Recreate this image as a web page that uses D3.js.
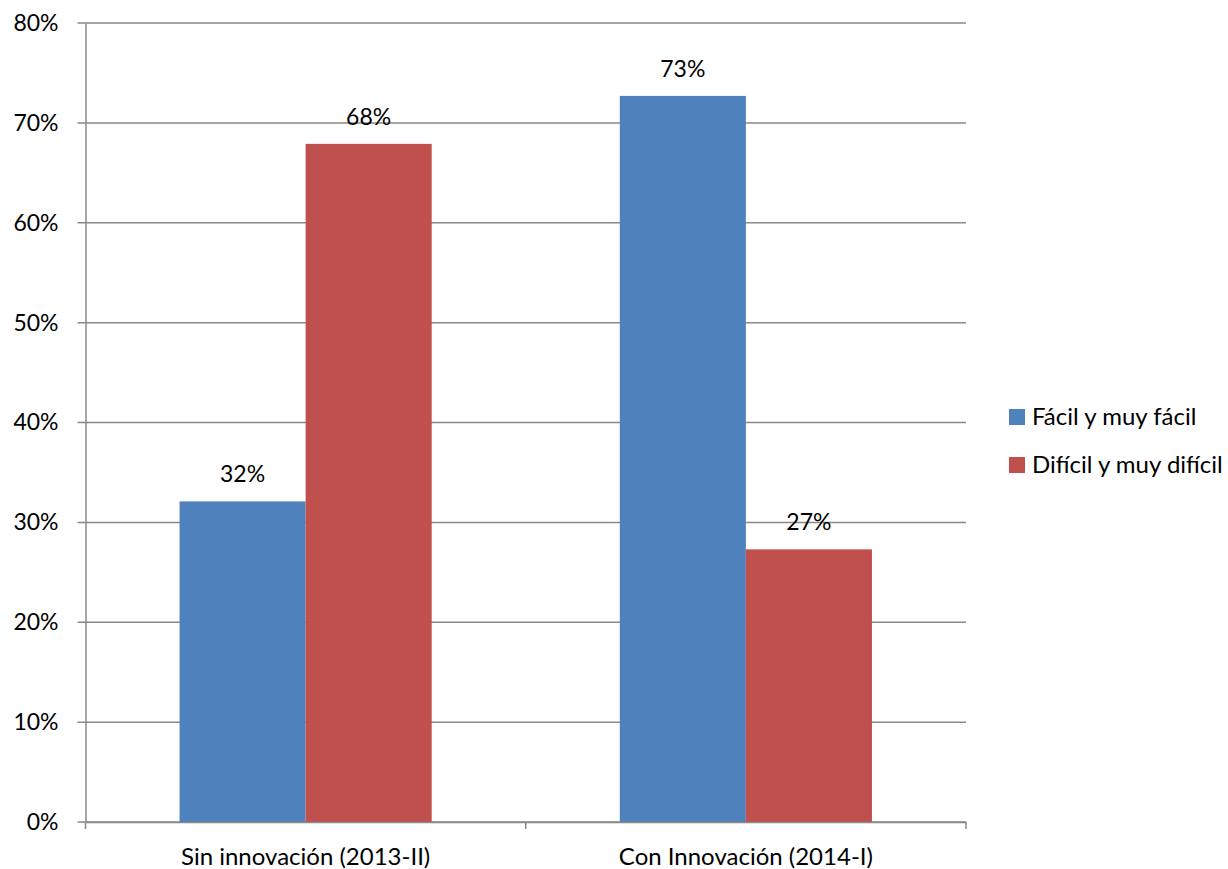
<!DOCTYPE html>
<html><head><meta charset="utf-8">
<script src="https://cdn.jsdelivr.net/npm/d3@7"></script>
<style>body{margin:0;background:#fff}svg{display:block}text{font-family:Lato,"Open Sans",sans-serif;fill:#000}</style>
</head><body><svg id="c" width="1228" height="869"></svg>
<script>
const categories = ["Sin innovación (2013-II)", "Con Innovación (2014-I)"];
const seriesNames = ["Fácil y muy fácil", "Difícil y muy difícil"];
const facil = [32.1, 72.7];
const dificil = [67.9, 27.3];
const labelsFacil = ["32%", "73%"];
const labelsDificil = ["68%", "27%"];
const yTicks = [0, 10, 20, 30, 40, 50, 60, 70, 80];
const colors = ["#4F81BD", "#C0504D"];

(function () {
const svg = d3.select("#c");
const pLeft = 85.5, pRight = 966, pTop = 23, pBottom = 822;
const x = d3.scaleBand().domain(categories).range([pLeft, pRight]).paddingInner(0).paddingOuter(0);
const y = d3.scaleLinear().domain([0, 80]).range([pBottom, pTop]);
const fs = 23;

svg.append("g").selectAll("line").data(yTicks).join("line")
  .attr("x1", pLeft - 8).attr("x2", pRight).attr("y1", d => y(d)).attr("y2", d => y(d))
  .attr("stroke", "#898989").attr("stroke-width", 1.5);

const yAxis = svg.append("g").attr("transform", `translate(${pLeft},0)`)
  .call(d3.axisLeft(y).tickValues(yTicks).tickFormat(d => d + "%").tickSize(0).tickPadding(27));
yAxis.select(".domain").attr("stroke", "#898989").attr("stroke-width", 1.5);
yAxis.selectAll("text").style("font-size", fs + "px").style("font-family", "Lato");

const series = [facil, dificil];
const labels = [labelsFacil, labelsDificil];
const bw = x.bandwidth() * 126 / 440;
const sub = d3.scaleBand().domain([0, 1]).range([0, 2 * bw]);
const gap = (x.bandwidth() - 2 * bw) / 2;

series.forEach((vals, si) => {
  svg.append("g").selectAll("rect").data(vals).join("rect")
    .attr("x", (d, i) => x(categories[i]) + gap + sub(si))
    .attr("width", sub.bandwidth())
    .attr("y", d => y(d)).attr("height", d => y(0) - y(d))
    .attr("fill", colors[si]);
  svg.append("g").selectAll("text").data(vals).join("text")
    .attr("x", (d, i) => x(categories[i]) + gap + sub(si) + sub.bandwidth() / 2)
    .attr("y", d => y(d) - 19)
    .attr("text-anchor", "middle").style("font-size", fs + "px")
    .text((d, i) => labels[si][i]);
});

const xAxis = svg.append("g").attr("transform", `translate(0,${pBottom})`)
  .call(d3.axisBottom(x).tickSize(0).tickPadding(26));
xAxis.select(".domain").attr("stroke", "#898989").attr("stroke-width", 1.5);
xAxis.selectAll("text").style("font-size", "24px").style("font-family", "Lato");
svg.append("g").selectAll("line").data([pLeft, pLeft + x.bandwidth(), pRight]).join("line")
  .attr("x1", d => d).attr("x2", d => d).attr("y1", pBottom).attr("y2", pBottom + 7)
  .attr("stroke", "#898989").attr("stroke-width", 1.5);

const lg = svg.append("g").attr("transform", "translate(1009,409)");
seriesNames.forEach((n, i) => {
  lg.append("rect").attr("x", 0).attr("y", i * 48).attr("width", 16).attr("height", 16).attr("fill", colors[i]);
  lg.append("text").attr("x", 23).attr("y", i * 48 + 8).attr("dy", "0.35em").style("font-size", "24px").text(n);
});
})();
</script></body></html>
